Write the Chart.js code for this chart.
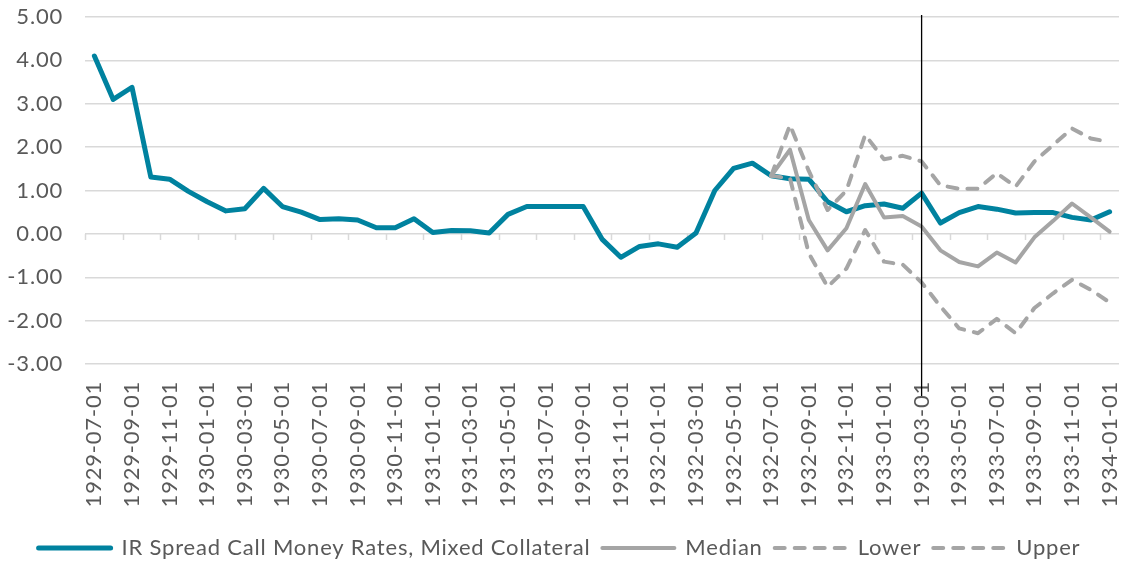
<!DOCTYPE html>
<html>
<head>
<meta charset="utf-8">
<script src="https://cdn.jsdelivr.net/npm/chart.js@4.4.1/dist/chart.umd.min.js"></script>
<style>
    html, body { margin: 0; padding: 0; background: #ffffff; }
    #wrap { width: 1131px; height: 562px; position: relative; }
</style>
</head>
<body>
<div id="wrap"><canvas id="spreadChart"></canvas></div>
<script>
// Monthly categories
const months = [
    '1929-07-01', '1929-08-01', '1929-09-01', '1929-10-01', '1929-11-01', '1929-12-01',
    '1930-01-01', '1930-02-01', '1930-03-01', '1930-04-01', '1930-05-01', '1930-06-01',
    '1930-07-01', '1930-08-01', '1930-09-01', '1930-10-01', '1930-11-01', '1930-12-01',
    '1931-01-01', '1931-02-01', '1931-03-01', '1931-04-01', '1931-05-01', '1931-06-01',
    '1931-07-01', '1931-08-01', '1931-09-01', '1931-10-01', '1931-11-01', '1931-12-01',
    '1932-01-01', '1932-02-01', '1932-03-01', '1932-04-01', '1932-05-01', '1932-06-01',
    '1932-07-01', '1932-08-01', '1932-09-01', '1932-10-01', '1932-11-01', '1932-12-01',
    '1933-01-01', '1933-02-01', '1933-03-01', '1933-04-01', '1933-05-01', '1933-06-01',
    '1933-07-01', '1933-08-01', '1933-09-01', '1933-10-01', '1933-11-01', '1933-12-01',
    '1934-01-01'
];

// IR spread, call money rates (mixed collateral)
const spread = [
    4.10, 3.10, 3.38, 1.31, 1.26, 0.98, 0.74, 0.53, 0.58, 1.05, 0.63, 0.50,
    0.33, 0.35, 0.32, 0.14, 0.14, 0.35, 0.03, 0.08, 0.07, 0.02, 0.45, 0.63,
    0.63, 0.63, 0.63, -0.12, -0.54, -0.29, -0.23, -0.31, 0.02, 1.00, 1.51, 1.63,
    1.34, 1.27, 1.26, 0.74, 0.51, 0.65, 0.69, 0.59, 0.94, 0.25, 0.49, 0.63,
    0.57, 0.48, 0.49, 0.49, 0.38, 0.32, 0.51
];

// Forecast band, starting at 1932-07-01
const forecastStart = '1932-07-01';
const median = [1.34, 1.94, 0.32, -0.38, 0.13, 1.15, 0.38, 0.41, 0.17, -0.38, -0.65, -0.75, -0.43, -0.66, -0.08, 0.30, 0.70, 0.38, 0.05];
const lower  = [1.34, 1.28, -0.45, -1.22, -0.80, 0.09, -0.64, -0.71, -1.12, -1.67, -2.18, -2.29, -1.96, -2.29, -1.71, -1.37, -1.06, -1.29, -1.58];
const upper  = [1.34, 2.51, 1.45, 0.55, 1.00, 2.28, 1.72, 1.80, 1.67, 1.12, 1.04, 1.04, 1.40, 1.09, 1.67, 2.05, 2.43, 2.20, 2.12];

// Marker line
const markerMonth = '1933-03-01';

const yTicks = [-3, -2, -1, 0, 1, 2, 3, 4, 5];

const TEAL = '#00829F';
const GREY = '#A5A5A5';
const TEXT = '#595959';
const GRID = '#D9D9D9';
const FONT = { family: 'Lato', size: 22 };
const LETTER_SPACING = '0.8px';

// pad forecast series with nulls up to the start month
function padForecast(values) {
    const startIdx = months.indexOf(forecastStart);
    return Array(startIdx).fill(null).concat(values);
}

// Slightly wider text, like the original export
const textSpacing = {
    id: 'textSpacing',
    beforeUpdate(chart) { chart.ctx.letterSpacing = LETTER_SPACING; },
    beforeLayout(chart) { chart.ctx.letterSpacing = LETTER_SPACING; },
    beforeDraw(chart) { chart.ctx.letterSpacing = LETTER_SPACING; }
};

// Tick marks on the zero line, every second category boundary
const zeroTicks = {
    id: 'zeroTicks',
    beforeDatasetsDraw(chart) {
        const x = chart.scales.x;
        const y = chart.scales.y;
        const ctx = chart.ctx;
        const y0 = y.getPixelForValue(0);
        ctx.save();
        ctx.strokeStyle = GRID;
        ctx.lineWidth = 1.5;
        ctx.beginPath();
        for (let i = 0; i < months.length; i += 2) {
            const px = Math.round(x.getPixelForValue(i - 0.5)) + 0.5;
            ctx.moveTo(px, y0);
            ctx.lineTo(px, y0 + 6);
        }
        ctx.stroke();
        ctx.restore();
    }
};

// Vertical black line at the marker month
const markerLine = {
    id: 'markerLine',
    afterDatasetsDraw(chart) {
        const x = chart.scales.x;
        const area = chart.chartArea;
        const ctx = chart.ctx;
        const px = x.getPixelForValue(months.indexOf(markerMonth));
        ctx.save();
        ctx.strokeStyle = '#000000';
        ctx.lineWidth = 1.3;
        ctx.beginPath();
        ctx.moveTo(px, area.top - 2);
        ctx.lineTo(px, area.bottom + 32);
        ctx.stroke();
        ctx.restore();
    }
};

document.addEventListener('DOMContentLoaded', function() {
    const ctx = document.getElementById('spreadChart').getContext('2d');

    const lineBase = {
        fill: false,
        tension: 0,
        pointRadius: 0,
        pointHoverRadius: 0,
        borderJoinStyle: 'round',
        borderCapStyle: 'round',
        spanGaps: false
    };

    new Chart(ctx, {
        type: 'line',
        data: {
            labels: months,
            datasets: [
                Object.assign({}, lineBase, {
                    label: 'Upper',
                    data: padForecast(upper),
                    borderColor: GREY,
                    borderWidth: 4,
                    borderDash: [10, 10]
                }),
                Object.assign({}, lineBase, {
                    label: 'Lower',
                    data: padForecast(lower),
                    borderColor: GREY,
                    borderWidth: 4,
                    borderDash: [10, 10]
                }),
                Object.assign({}, lineBase, {
                    label: 'Median',
                    data: padForecast(median),
                    borderColor: GREY,
                    borderWidth: 4
                }),
                Object.assign({}, lineBase, {
                    label: 'IR Spread Call Money Rates, Mixed Collateral',
                    data: spread,
                    borderColor: TEAL,
                    borderWidth: 5
                })
            ]
        },
        options: {
            responsive: true,
            maintainAspectRatio: false,
            animation: false,
            layout: {
                padding: { top: 17, right: 12, left: 0, bottom: -7 }
            },
            plugins: {
                tooltip: { enabled: false },
                legend: {
                    position: 'bottom',
                    reverse: true,
                    labels: {
                        usePointStyle: true,
                        pointStyle: 'line',
                        pointStyleWidth: 72,
                        boxHeight: 22,
                        padding: 12,
                        color: TEXT,
                        font: FONT,
                        generateLabels: function(chart) {
                            const items = Chart.defaults.plugins.legend.labels.generateLabels(chart);
                            items.forEach(item => {
                                const ds = chart.data.datasets[item.datasetIndex];
                                item.strokeStyle = ds.borderColor;
                                item.lineWidth = ds.borderWidth;
                                item.lineDash = ds.borderDash || [];
                                item.lineCap = 'round';
                            });
                            return items;
                        }
                    }
                }
            },
            scales: {
                x: {
                    offset: true,
                    grid: { display: false },
                    border: { display: false },
                    afterFit: function(scale) {
                        scale.height = 161;
                        scale.paddingLeft = 0;
                        scale.paddingRight = 0;
                    },
                    ticks: {
                        autoSkip: false,
                        maxRotation: 90,
                        minRotation: 90,
                        padding: 9,
                        color: TEXT,
                        font: FONT,
                        callback: function(value, index) {
                            return index % 2 === 0 ? months[index] : null;
                        }
                    }
                },
                y: {
                    min: yTicks[0],
                    max: yTicks[yTicks.length - 1],
                    afterFit: function(scale) {
                        scale.width = 85;
                        scale.paddingTop = 0;
                        scale.paddingBottom = 0;
                    },
                    afterBuildTicks: function(scale) {
                        scale.ticks = yTicks.map(v => ({ value: v }));
                    },
                    grid: {
                        color: GRID,
                        lineWidth: 1.5,
                        drawTicks: false
                    },
                    border: { display: false },
                    ticks: {
                        padding: 22,
                        color: TEXT,
                        font: FONT,
                        callback: function(value) {
                            return Number(value).toFixed(2);
                        }
                    }
                }
            }
        },
        plugins: [textSpacing, zeroTicks, markerLine]
    });
});
</script>
</body>
</html>
